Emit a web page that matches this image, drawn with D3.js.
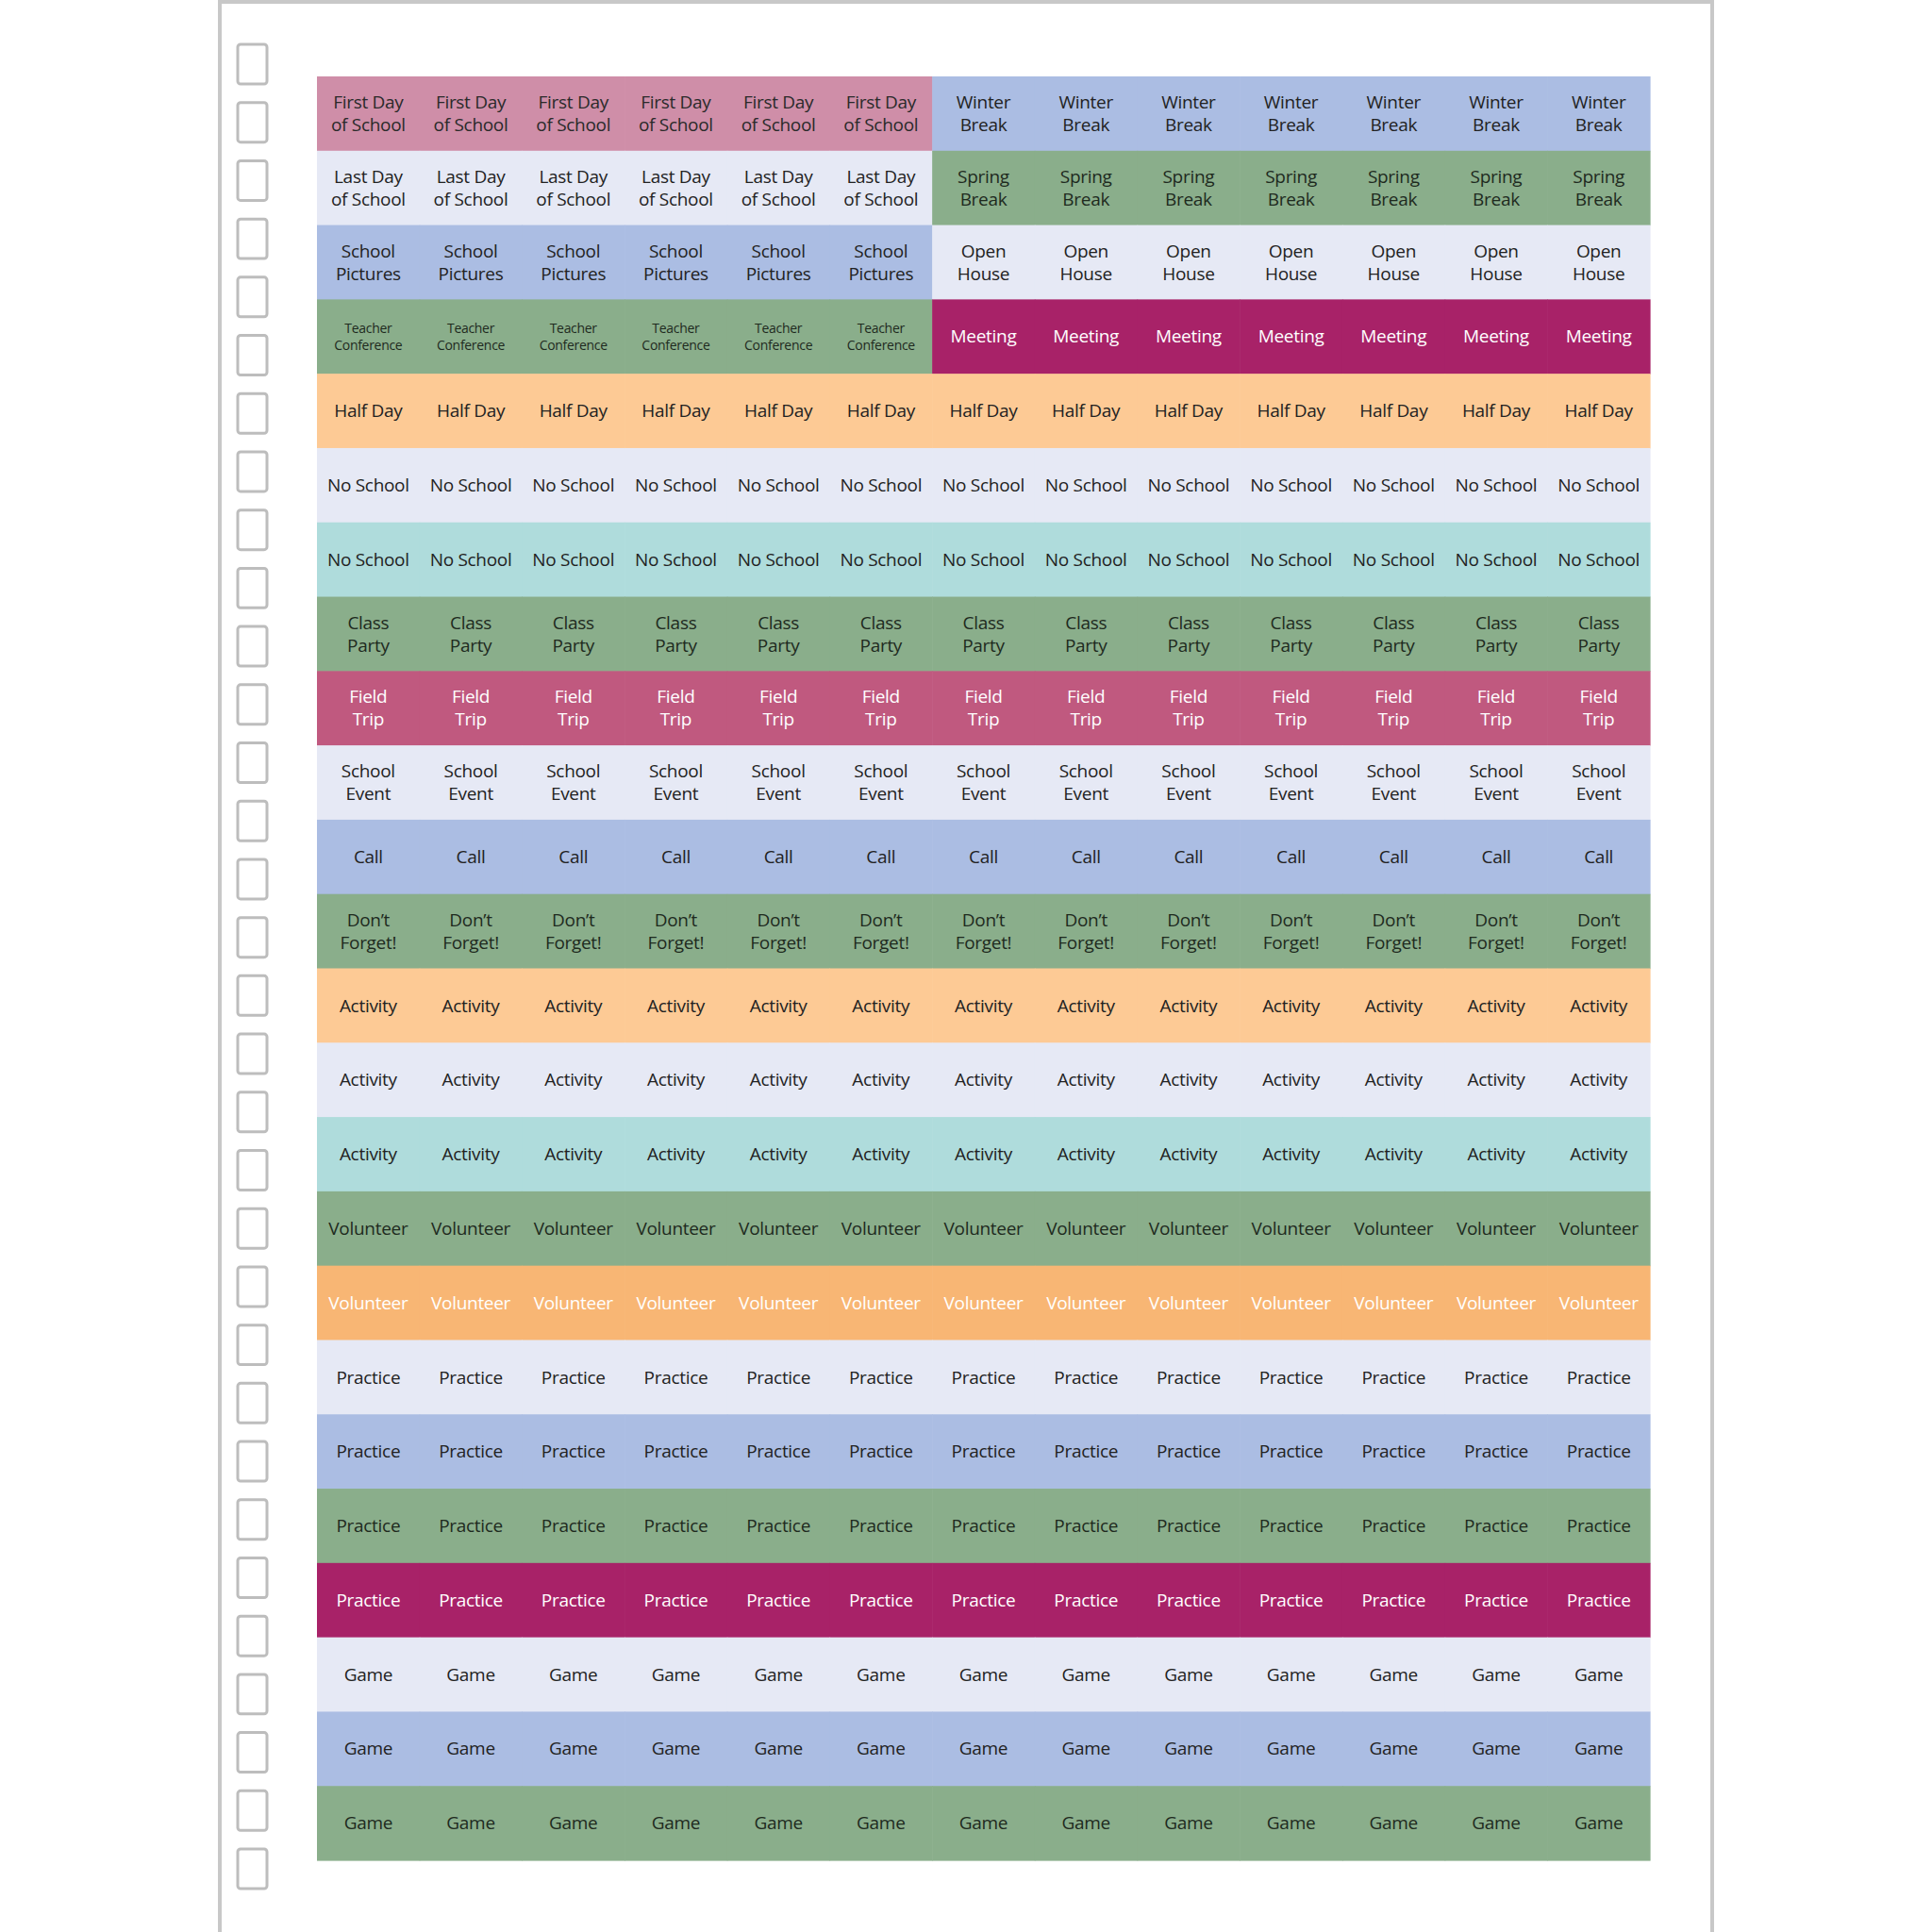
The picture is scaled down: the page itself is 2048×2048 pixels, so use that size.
<!DOCTYPE html>
<html><head><meta charset="utf-8">
<script src="https://cdn.jsdelivr.net/npm/d3@7"></script>
<style>body{margin:0;background:#fff}svg{display:block}</style>
</head><body>
<svg id="c" width="2048" height="2048"></svg>
<script>
const columns = d3.range(13);
const splitAt = 6;
const leftLabels = ["First Day|of School","Last Day|of School","School|Pictures","Teacher|Conference","Half Day","No School","No School","Class|Party","Field|Trip","School|Event","Call","Don’t|Forget!","Activity","Activity","Activity","Volunteer","Volunteer","Practice","Practice","Practice","Practice","Game","Game","Game"];
const rightLabels = ["Winter|Break","Spring|Break","Open|House","Meeting","Half Day","No School","No School","Class|Party","Field|Trip","School|Event","Call","Don’t|Forget!","Activity","Activity","Activity","Volunteer","Volunteer","Practice","Practice","Practice","Practice","Game","Game","Game"];
const leftTone = ["pink","light","blue","green","peach","light","teal","green","rose","light","blue","green","peach","light","teal","green","orange","light","blue","green","plum","light","blue","green"];
const rightTone = ["blue","green","light","plum","peach","light","teal","green","rose","light","blue","green","peach","light","teal","green","orange","light","blue","green","plum","light","blue","green"];
const checkboxes = d3.range(32);

const fill = {pink:"#cf8ea8",light:"#e6e9f5",blue:"#abbde3",green:"#8aae8b",peach:"#fdca95",teal:"#afdcdc",rose:"#c0597f",plum:"#a82268",orange:"#f8b674"};
const ink = {pink:"#2a2a2a",light:"#222",blue:"#222",green:"#1e2a1e",peach:"#222",teal:"#222",rose:"#fff",plum:"#fff",orange:"#fff"};

const svg = d3.select("#c");
// page
svg.append("rect").attr("x",233).attr("y",2).attr("width",1582).attr("height",2060)
  .attr("fill","#fff").attr("stroke","#c8c8c8").attr("stroke-width",4);
// checkboxes
const cb = d3.scaleBand().domain(checkboxes).range([47,2002]).paddingInner(0.32);
svg.selectAll("rect.cb").data(checkboxes).join("rect").attr("class","cb")
  .attr("x",252).attr("y",d=>cb(d)).attr("width",31).attr("height",cb.bandwidth())
  .attr("rx",3).attr("fill","#fff").attr("stroke","#bdbdbd").attr("stroke-width",3);

const x = d3.scaleBand().domain(columns).range([336,1749]);
const rows = d3.range(leftLabels.length);
const y = d3.scaleBand().domain(rows).range([81,1972]);

const cells = [];
rows.forEach(r=>columns.forEach(c=>{
  const right = c>=splitAt;
  cells.push({r,c,label:(right?rightLabels:leftLabels)[r],tone:(right?rightTone:leftTone)[r]});
}));
svg.selectAll("rect.cell").data(cells).join("rect").attr("class","cell")
  .attr("x",d=>x(d.c)).attr("y",d=>y(d.r)).attr("width",x.bandwidth()+0.6).attr("height",y.bandwidth()+0.6)
  .attr("fill",d=>fill[d.tone]);

const t = svg.selectAll("text.cell").data(cells).join("text").attr("class","cell")
  .attr("text-anchor","middle").attr("font-family","'Open Sans', sans-serif")
  .attr("fill",d=>ink[d.tone])
  .attr("font-size",d=>d.label.startsWith("Teacher")?14:19)
  .attr("transform",d=>`translate(${x(d.c)+x.bandwidth()/2},${y(d.r)+y.bandwidth()/2})`);
t.each(function(d){
  const parts = d.label.split("|");
  const lh = d.label.startsWith("Teacher")?18:24;
  const el = d3.select(this);
  parts.forEach((p,i)=>{
    el.append("tspan").attr("x",0).attr("y",(i-(parts.length-1)/2)*lh).attr("dy","0.35em")
      .style("letter-spacing","-0.3px").text(p);
  });
});
</script>
</body></html>
